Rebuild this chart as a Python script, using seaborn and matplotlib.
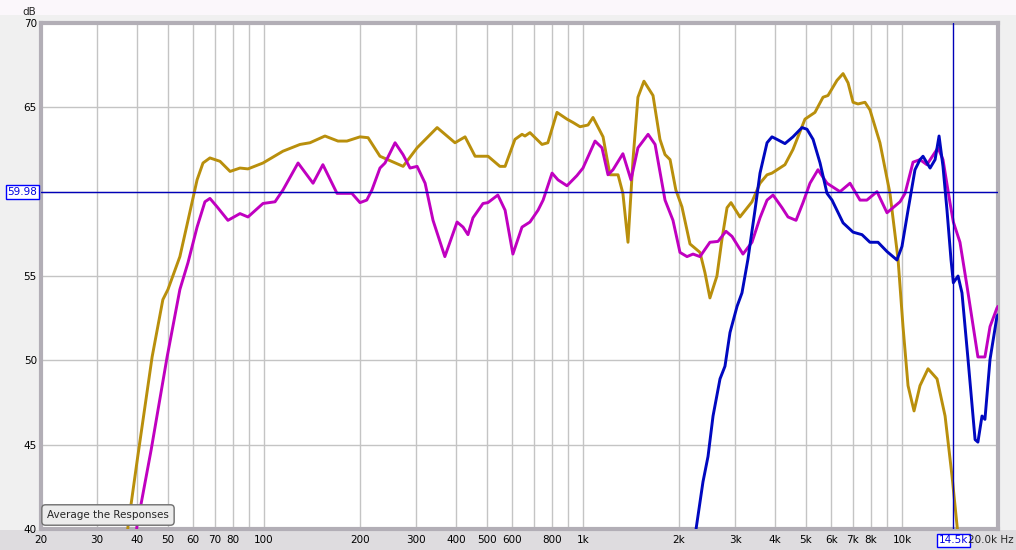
import pandas as pd
import matplotlib.pyplot as plt
import matplotlib.transforms as mtransforms
from matplotlib.patches import Rectangle
import seaborn as sns

# frequency response readings (Hz, dB)
gold_f = [36.5, 37.5, 40.0, 44.6, 48.2, 50.0, 54.5, 57.8, 61.7, 64.4,
          67.7, 72.8, 78.3, 84.1, 89.1, 99.3, 114.7, 129.7, 139.4, 155.3,
          170.6, 182, 200, 212, 231, 273, 302, 349, 397, 427,
          459, 504, 549, 570, 612, 644, 658, 682, 744, 776,
          829, 891, 931, 979, 1037, 1075, 1156, 1215, 1288, 1334,
          1384, 1435, 1487, 1553, 1658, 1743, 1808, 1875, 1955, 2043,
          2165, 2327, 2412, 2500, 2630, 2728, 2829, 2911, 3105, 3387,
          3589, 3776, 3913, 4297, 4553, 4965, 5336, 5657, 5862, 6257,
          6537, 6777, 7025, 7281, 7657, 7936, 8530, 9170, 9720, 10075,
          10447, 10910, 11390, 12070, 12880, 13650, 14360, 14880, 15300]
gold_db = [38.0, 40.2, 44.0, 50.2, 53.6, 54.2, 56.15, 58.3, 60.7, 61.7,
           62.0, 61.8, 61.2, 61.4, 61.35, 61.7, 62.4, 62.8, 62.9, 63.3,
           63.0, 63.0, 63.25, 63.2, 62.1, 61.5, 62.6, 63.8, 62.9, 63.25,
           62.1, 62.1, 61.5, 61.5, 63.1, 63.4, 63.3, 63.5, 62.8, 62.9,
           64.7, 64.3, 64.1, 63.85, 63.95, 64.4, 63.25, 61.0, 61.0, 59.9,
           57.0, 61.9, 65.6, 66.55, 65.7, 63.1, 62.2, 61.9, 60.1, 59.1,
           56.9, 56.4, 55.2, 53.7, 55.0, 57.2, 59.05, 59.35, 58.5, 59.4,
           60.5, 61.0, 61.1, 61.6, 62.5, 64.3, 64.7, 65.6, 65.7, 66.6,
           67.0, 66.45, 65.3, 65.2, 65.3, 64.85, 62.9, 59.9, 56.0, 52.0,
           48.5, 47.0, 48.5, 49.5, 48.9, 46.7, 43.1, 40.2, 38.0]

mag_f = [38.8, 40.0, 44.3, 49.7, 54.5, 57.8, 61.7, 65.3, 67.7, 71.3,
         77.1, 84.1, 89.1, 99.3, 108.3, 114.7, 127.9, 142.5, 153, 169.4,
         188.6, 200, 210, 218, 231, 239.6, 257.6, 272.8, 287, 302,
         320, 338.8, 369, 403, 420.8, 436, 452, 486, 503.5, 541,
         570, 603, 644, 682, 723, 750, 800, 835, 891, 957,
         1000, 1091, 1147, 1198, 1242, 1334, 1414, 1487, 1600, 1683,
         1808, 1915, 2014, 2119, 2213, 2327, 2500, 2650, 2807, 2932,
         3174, 3387, 3589, 3776, 3943, 4207, 4393, 4655, 4895, 5148,
         5454, 5821, 6394, 6872, 7386, 7762, 8350, 8975, 9861, 10225,
         10831, 11390, 11970, 12970, 13445, 14140, 14490, 15200, 15990, 17300,
         18200, 18880, 19850, 20000]
mag_db = [38.0, 40.2, 44.7, 50.2, 54.2, 55.8, 57.9, 59.4, 59.6, 59.1,
          58.3, 58.7, 58.5, 59.3, 59.4, 60.1, 61.7, 60.5, 61.6, 59.9,
          59.9, 59.35, 59.5, 60.1, 61.4, 61.7, 62.9, 62.2, 61.4, 61.5,
          60.5, 58.3, 56.15, 58.2, 57.9, 57.45, 58.45, 59.3, 59.35, 59.8,
          58.9, 56.3, 57.9, 58.2, 58.9, 59.5, 61.1, 60.7, 60.35, 60.95,
          61.4, 63.0, 62.6, 61.0, 61.3, 62.25, 60.7, 62.6, 63.4, 62.8,
          59.5, 58.3, 56.4, 56.15, 56.3, 56.15, 57.0, 57.05, 57.65, 57.35,
          56.3, 57.0, 58.45, 59.5, 59.8, 59.05, 58.5, 58.3, 59.35, 60.5,
          61.3, 60.5, 60.0, 60.5, 59.5, 59.5, 60.0, 58.75, 59.4, 59.9,
          61.75, 61.9, 61.6, 62.6, 61.9, 59.35, 58.2, 57.0, 54.4, 50.2,
          50.2, 52.0, 53.1, 53.2]

blue_f = [2200, 2262, 2378, 2466, 2557, 2689, 2787, 2890, 3041, 3151,
          3290, 3461, 3589, 3776, 3913, 4057, 4297, 4553, 4860, 5038,
          5264, 5536, 5821, 6035, 6537, 7025, 7494, 7936, 8411, 8975,
          9643, 10000, 10447, 10985, 11390, 11640, 12250, 12700, 13070, 13445,
          13840, 14250, 14490, 14990, 15420, 16110, 16950, 17300, 17820, 18200,
          18880, 19850, 20000]
blue_db = [38.0, 40.0, 42.8, 44.3, 46.7, 48.9, 49.65, 51.65, 53.2, 54.0,
           56.0, 58.9, 61.1, 62.9, 63.25, 63.1, 62.85, 63.25, 63.8, 63.7,
           63.1, 61.7, 59.9, 59.5, 58.15, 57.6, 57.45, 57.0, 57.0, 56.45,
           55.95, 56.75, 58.9, 61.3, 61.9, 62.1, 61.4, 61.9, 63.3, 61.5,
           58.9, 55.95, 54.6, 55.0, 54.0, 50.05, 45.3, 45.15, 46.7, 46.5,
           50.05, 52.6, 52.7]

x_grid = ([v * 10 for v in range(2, 10)] + [v * 100 for v in range(1, 10)]
          + [v * 1000 for v in range(1, 10)] + [10000, 20000])
x_labels = {20: '20', 30: '30', 40: '40', 50: '50', 60: '60', 70: '70', 80: '80',
            100: '100', 200: '200', 300: '300', 400: '400', 500: '500', 600: '600',
            800: '800', 1000: '1k', 2000: '2k', 3000: '3k', 4000: '4k', 5000: '5k',
            6000: '6k', 7000: '7k', 8000: '8k', 10000: '10k'}
y_ticks = [40, 45, 50, 55, 60, 65, 70]
y_labels = ['40', '45', '50', '55', '', '65', '70']

cursor_f = 14500
cursor_db = 59.98

sns.set_style('white')
plt.rcParams['font.family'] = ['DejaVu Sans']

fig = plt.figure(figsize=(10.16, 5.5), dpi=100)
fig.patch.set_facecolor('#f0f0f0')
fig.patches.append(Rectangle((0, 1 - 15 / 550), 1, 15 / 550, transform=fig.transFigure,
                             facecolor='#fbf7fb', edgecolor='none', zorder=-5))
fig.patches.append(Rectangle((0, 0), 1, 20 / 550, transform=fig.transFigure,
                             facecolor='#dedcdf', edgecolor='none', zorder=-5))

ax = fig.add_axes([41 / 1016, 1 - 529 / 550, 957 / 1016, 506 / 550])
ax.set_zorder(2)
ax.set_facecolor('white')
ax.set_xscale('log')

for f, db, c in [(gold_f, gold_db, '#b98f0c'), (mag_f, mag_db, '#c000c0'), (blue_f, blue_db, '#0008c0')]:
    d = pd.DataFrame({'Hz': f, 'dB': db})
    sns.lineplot(data=d, x='Hz', y='dB', ax=ax, color=c, linewidth=2.1,
                 sort=False, estimator=None, zorder=3)

ax.set_xlim(20, 20000)
ax.set_ylim(40, 70)
ax.set_xticks(x_grid)
ax.set_xticklabels([x_labels.get(v, '') for v in x_grid])
ax.xaxis.set_minor_locator(plt.NullLocator())
ax.set_yticks(y_ticks)
ax.set_yticklabels(y_labels)
ax.tick_params(axis='both', length=0, labelsize=7.5, colors='black')
ax.tick_params(axis='x', pad=4)
ax.tick_params(axis='y', pad=3)
ax.grid(True, color='#c4c4c4', linewidth=1)
ax.set_xlabel('')
ax.set_ylabel('')
for s in ax.spines.values():
    s.set_color('#b2aeb6')
    s.set_linewidth(3)

# cursor
ax.axhline(cursor_db, color='#0000b8', linewidth=1, zorder=4)
ax.axvline(cursor_f, color='#0000b8', linewidth=1, zorder=4)
ax.text(-0.004, cursor_db, '59.98', transform=mtransforms.blended_transform_factory(ax.transAxes, ax.transData),
        ha='right', va='center', fontsize=7.5, color='#0000e0',
        bbox=dict(boxstyle='square,pad=0.15', facecolor='white', edgecolor='#0000ff', linewidth=1))
ax.text(cursor_f, -0.022, '14.5k', transform=mtransforms.blended_transform_factory(ax.transData, ax.transAxes),
        ha='center', va='center', fontsize=7.5, color='#0000e0', clip_on=False, zorder=6,
        bbox=dict(boxstyle='square,pad=0.15', facecolor='white', edgecolor='#0000ff', linewidth=1))

fig.text(1014 / 1016, 1 - 540 / 550, '20.0k Hz', ha='right', va='center', fontsize=7.5, zorder=5)
fig.text(29 / 1016, 1 - 12 / 550, 'dB', ha='center', va='center', fontsize=7.5)
fig.text(108 / 1016, 1 - 515 / 550, 'Average the Responses', ha='center', va='center', fontsize=7.5,
         bbox=dict(boxstyle='round,pad=0.5,rounding_size=0.35', facecolor='#ececec',
                   edgecolor='#6e6e6e', linewidth=1), zorder=10)

plt.savefig('out.png', dpi=100)
